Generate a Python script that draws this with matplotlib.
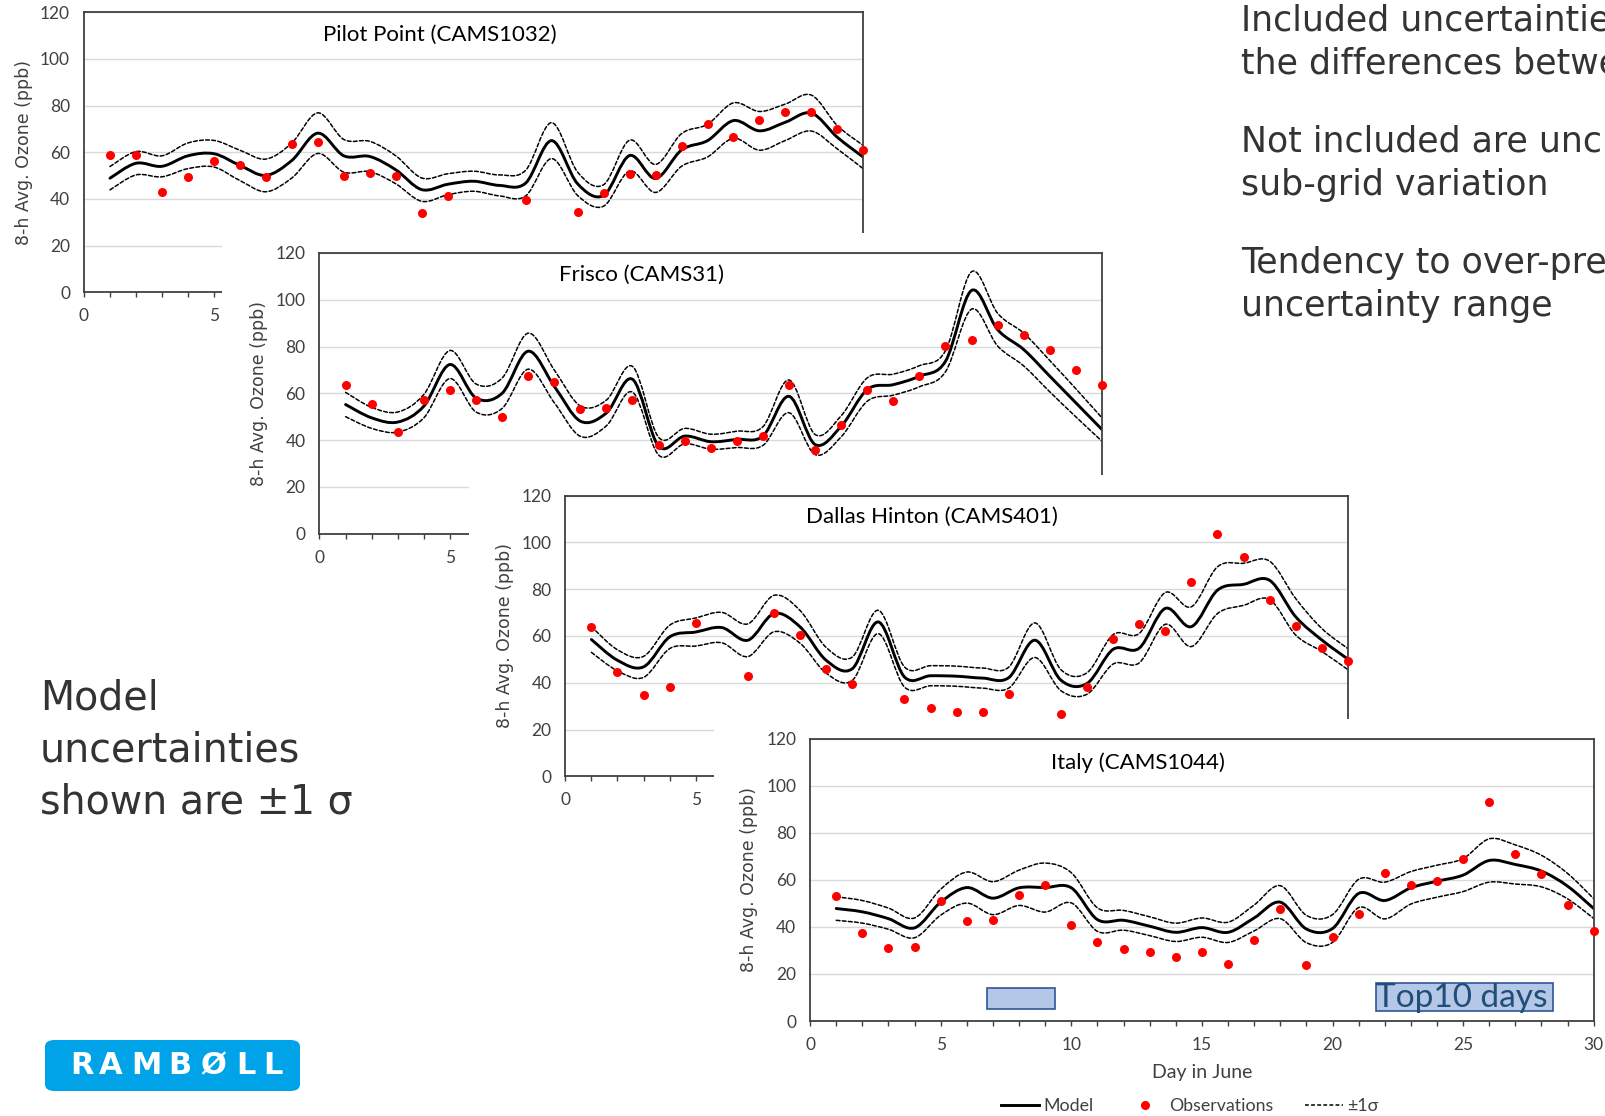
import numpy as np
import matplotlib
matplotlib.use("Agg")
import matplotlib.pyplot as plt
from matplotlib.path import Path
from matplotlib.patches import PathPatch, Rectangle, FancyBboxPatch
from matplotlib.lines import Line2D

plt.rcParams["font.family"] = "DejaVu Sans"
NARROW = ["Lato", "DejaVu Sans"]
NAN = float("nan")

days = list(range(1, 31))

# --- data (8-h avg ozone, ppb) ---
pilot_obs = [58.7, 58.7, 42.8, 49.4, 56.1, 54.5, 49.4, 63.7, 64.2, 49.8,
             51.1, 49.9, 33.9, 41.1, NAN, NAN, 39.5, NAN, 34.5, 42.5,
             50.8, 50.3, 62.5, 72.1, 66.4, 73.7, 77.2, 77.4, 70.1, 61.0]
pilot_model = [48.9, 55.3, 54.0, 58.5, 59.4, 54.4, 50.1, 56.5, 68.2, 58.5,
               58.2, 52.5, 44.0, 46.3, 47.6, 45.8, 46.8, 65.0, 46.5, 41.5,
               58.6, 48.8, 61.0, 65.0, 73.6, 69.2, 72.9, 76.8, 66.4, 57.9]
pilot_sigma = [5, 5, 4.5, 5.5, 5.7, 6.5, 7, 7.5, 8.7, 7,
               6.5, 6, 5, 4.5, 4.3, 4.5, 5.5, 7.7, 5, 4.6,
               6.6, 6, 7, 7, 7.6, 8.3, 7.8, 7.7, 5, 5]

frisco_obs = [63.7, 55.5, 43.5, 57.0, 61.2, 57.0, 49.8, 67.3, 65.0, 53.3,
              53.8, 57.0, 38.1, 39.4, 36.4, 39.5, 41.7, 63.6, 35.6, 46.4,
              61.6, 56.8, 67.6, 80.1, 82.9, 89.0, 84.9, 78.4, 69.8, 63.7]
frisco_model = [55.2, 49.5, 47.7, 54.5, 72.3, 58.0, 60.0, 78.0, 63.0, 48.1,
                51.6, 66.0, 37.4, 41.7, 39.3, 40.3, 41.7, 58.7, 38.1, 45.9,
                61.6, 63.7, 67.3, 73.7, 104.0, 87.2, 78.7, 67.3, 55.9, 44.5]
frisco_sigma = [5.2, 4.5, 4.3, 5, 6, 6, 6.5, 7.7, 7, 6.5,
                5.5, 5.5, 3.8, 3.3, 3.2, 3.5, 4, 7, 4.3, 4.5,
                5, 4.5, 4.5, 4.5, 8, 7, 7, 6.7, 6, 5]

dallas_obs = [64.0, 44.4, 34.7, 38.3, 65.7, NAN, 43.1, 69.7, 60.6, 45.7,
              39.3, NAN, 32.9, 29.0, 27.5, 27.5, 35.1, NAN, 26.5, 38.3,
              58.9, 65.0, 62.1, 83.3, 103.8, 93.9, 75.6, 64.4, 54.9, 49.2]
dallas_model = [58.5, 49.6, 46.8, 59.6, 61.7, 63.6, 58.2, 69.6, 63.9, 49.6,
                46.0, 66.0, 42.5, 43.0, 42.8, 42.0, 42.2, 58.2, 41.1, 39.7,
                54.3, 54.8, 71.8, 64.0, 79.6, 82.1, 83.8, 68.2, 58.3, 50.1]
dallas_sigma = [5.5, 4.5, 4.5, 5, 6, 6.5, 7, 7.8, 7, 5.5,
                5, 5, 4.3, 4.3, 4.3, 4.3, 4.5, 7.4, 4.5, 4.6,
                6.3, 6.3, 6.8, 8.5, 10, 9, 8.2, 7.8, 4.9, 4.5]

italy_obs = [53.0, 37.4, 31.1, 31.6, 51.2, 42.3, 43.1, 53.5, 57.9, 40.9,
             33.5, 30.8, 29.5, 27.1, 29.2, 24.1, 34.3, 47.8, 23.8, 35.6,
             45.4, 62.8, 58.0, 59.6, 68.7, 93.0, 70.8, 62.3, 49.5, 38.2]
italy_model = [47.8, 46.4, 43.5, 39.6, 50.5, 56.7, 52.2, 56.6, 56.7, 56.6,
               43.1, 42.8, 40.3, 37.7, 39.7, 37.7, 43.8, 50.5, 39.1, 39.3,
               54.2, 51.2, 56.6, 59.4, 62.0, 68.2, 66.5, 63.7, 57.3, 47.8]
italy_sigma = [5, 4.8, 4.5, 4.2, 5.5, 6.6, 7, 7.5, 10.4, 6.4,
               5, 4.2, 4, 3.9, 4.1, 4.3, 5.5, 7, 5.8, 5.9,
               6, 7.8, 6.9, 6.8, 7, 9.2, 8.3, 6.7, 5.4, 4.2]

titles = ["Pilot Point (CAMS1032)", "Frisco (CAMS31)",
          "Dallas Hinton (CAMS401)", "Italy (CAMS1044)"]

# --- layout, in pixels of the 1606x1116 slide ---
W, H = 1606.0, 1116.0


def fx(x):
    return x / W


def fy(y):
    return 1 - y / H


# plot-area boxes (left, top, right, bottom) and the white card laid over the previous chart
boxes = [(84.0, 12.3, 863.4, 292.3), (319.5, 253.0, 1102.0, 533.6),
         (565.3, 495.7, 1347.9, 776.3), (810.1, 738.5, 1593.7, 1021.1)]
covers = [None, (222.3, 233.1, 1121, 589), (469.4, 475.2, 1367, 832),
          (714, 719.3, 1606, 1116)]
title_pos = [(0.457, 0.919), (0.412, 0.922), (0.468, 0.924), (0.418, 0.915)]

DASH = (0, (2.5, 1.5))


def smooth_path(x, y):
    """Excel-style smoothed line: cubic Bezier segments through the daily values."""
    pts = np.column_stack([x, y]).astype(float)
    p = np.vstack([pts[0], pts, pts[-1]])
    verts = [pts[0]]
    codes = [Path.MOVETO]
    for i in range(len(pts) - 1):
        p0, p1, p2, p3 = p[i], p[i + 1], p[i + 2], p[i + 3]
        verts += [p1 + (p2 - p0) / 6, p2 - (p3 - p1) / 6, p2]
        codes += [Path.CURVE4] * 3
    return Path(verts, codes)


def draw_panel(fig, idx, obs, model, sigma):
    z = 2 * idx + 1
    if covers[idx] is not None:
        cl, ct, cr, cb = covers[idx]
        fig.add_artist(Rectangle((fx(cl), fy(cb)), fx(cr) - fx(cl), fy(ct) - fy(cb),
                                 transform=fig.transFigure, facecolor="white",
                                 edgecolor="none", zorder=z - 1))
    l, t, r, b = boxes[idx]
    ax = fig.add_axes([fx(l), fy(b), fx(r) - fx(l), fy(t) - fy(b)])
    ax.set_zorder(z)
    ax.set_xlim(0, 30)
    ax.set_ylim(0, 120)
    ax.set_yticks(range(0, 121, 20))
    ax.set_xticks(range(0, 31))
    ax.set_xticklabels([str(d) if d % 5 == 0 else "" for d in range(0, 31)])
    ax.grid(axis="y", color="#d9d9d9", lw=1.0)
    ax.set_axisbelow(True)
    for s in ax.spines.values():
        s.set_color("#404040")
        s.set_linewidth(1.3)
    ax.tick_params(axis="y", length=0, pad=10, labelsize=12.5, labelcolor="#404040")
    ax.tick_params(axis="x", length=3.5, width=1.0, direction="out", pad=8,
                   labelsize=12.5, labelcolor="#404040", color="#404040")
    for lab in ax.get_xticklabels() + ax.get_yticklabels():
        lab.set_family(NARROW)

    mod = np.array(model)
    sig = np.array(sigma)
    for yy, lw, ls in [(mod + sig, 1.1, DASH), (mod - sig, 1.1, DASH), (mod, 2.1, "-")]:
        ax.add_patch(PathPatch(smooth_path(days, yy), fill=False, edgecolor="black",
                               lw=lw, linestyle=ls, capstyle="round"))
    ax.plot(days, obs, "o", color="#ff0000", ms=6.5, mec="none", clip_on=False, zorder=5)

    ax.text(*title_pos[idx], titles[idx], transform=ax.transAxes, ha="center",
            va="center", fontsize=16, family=NARROW, color="black")
    ax.set_ylabel("8-h Avg. Ozone (ppb)", fontsize=12.5, color="#404040")
    ax.yaxis.set_label_coords(-0.066, 0.5)
    return ax


fig = plt.figure(figsize=(16.06, 11.16), dpi=100)
fig.patch.set_facecolor("white")

draw_panel(fig, 0, pilot_obs, pilot_model, pilot_sigma)
draw_panel(fig, 1, frisco_obs, frisco_model, frisco_sigma)
draw_panel(fig, 2, dallas_obs, dallas_model, dallas_sigma)
ax4 = draw_panel(fig, 3, italy_obs, italy_model, italy_sigma)

ax4.set_xlabel("Day in June", fontsize=14, family=NARROW, color="#404040")
ax4.xaxis.set_label_coords(0.5, -0.152)

# "Top10 days" key boxes on the Italy chart
ax4.add_patch(Rectangle((6.77, 5.1), 2.61, 9.1, facecolor="#b4c7e7",
                        edgecolor="#2f5597", lw=1.2, zorder=4))
ax4.add_patch(Rectangle((21.65, 4.4), 6.78, 11.8, facecolor="#b4c7e7",
                        edgecolor="#2f5597", lw=1.2, zorder=4))
ax4.text(24.96, 6.1, "Top10 days", ha="center", va="baseline", fontsize=24,
         family=NARROW, color="#1f4e79", zorder=6)

handles = [Line2D([0], [0], color="black", lw=2.1),
           Line2D([0], [0], marker="o", ls="none", color="#ff0000", mec="none", ms=6.5),
           Line2D([0], [0], color="black", lw=1.1, ls=DASH)]
leg = fig.legend(handles, ["Model", "Observations", "±1σ"], loc="center",
                 bbox_to_anchor=(fx(1190), fy(1106)), ncol=3, frameon=False,
                 handlelength=2.15, handletextpad=0.25, columnspacing=1.8,
                 prop={"family": NARROW, "size": 12.8})
leg.set_zorder(20)
for txt in leg.get_texts():
    txt.set_color("#404040")

# slide text
TXT = "#333333"
right_lines = [("Included uncertaintie", 30.7), ("the differences betwe", 74),
               ("Not included are unc", 151.7), ("sub-grid variation", 195),
               ("Tendency to over-pre", 272.7), ("uncertainty range", 316)]
for s, yb in right_lines:
    fig.text(fx(1241), fy(yb), s, fontsize=25, color=TXT, va="baseline", zorder=20)

left_lines = [("Model", 710), ("uncertainties", 761), ("shown are ±1 σ", 813.6)]
for s, yb in left_lines:
    fig.text(fx(40), fy(yb), s, fontsize=28.5, color=TXT, va="baseline", zorder=20)

# Ramboll logo
fig.add_artist(FancyBboxPatch((fx(45), fy(1091)), fx(300) - fx(45), fy(1040) - fy(1091),
                              boxstyle="round,pad=0,rounding_size=0.006",
                              transform=fig.transFigure, facecolor="#00a3e8",
                              edgecolor="none", zorder=20))
for ch, xc in zip("RAMBØLL", [82, 111, 146, 180, 213, 246, 273]):
    fig.text(fx(xc), fy(1066), ch, fontsize=22, fontweight="bold", color="white",
             ha="center", va="center", zorder=21)

fig.savefig("out.png", dpi=100, facecolor="white")
